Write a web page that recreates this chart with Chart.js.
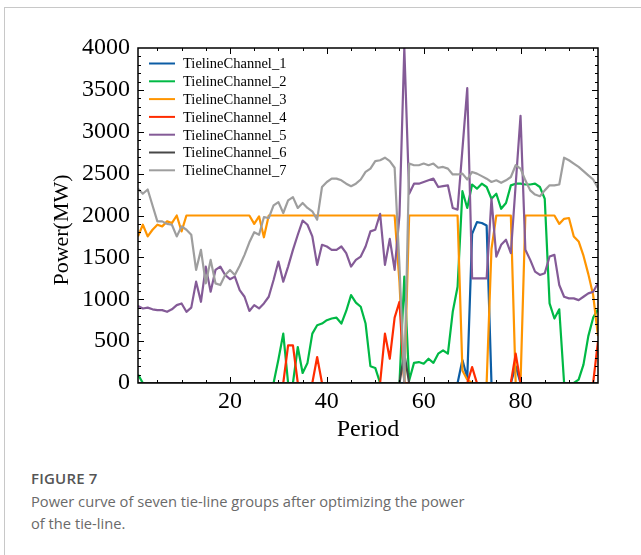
<!DOCTYPE html>
<html>
<head>
<meta charset="utf-8">
<script src="https://cdn.jsdelivr.net/npm/chart.js@4.4.1/dist/chart.umd.min.js"></script>
<style>
  body { margin: 0; width: 641px; height: 555px; overflow: hidden; background: #fff; position: relative; }
  .frame { position: absolute; left: 4px; top: 7px; width: 700px; height: 600px;
           border-top: 1px solid #c8c8c8; border-left: 1px solid #c8c8c8; }
  .plot { position: absolute; left: 0; top: 0; width: 641px; height: 445px; }
  .caption { position: absolute; left: 31px; top: 469px; font-family: "Open Sans", sans-serif; color: #6a6a6a; }
  .caption .fig { font-size: 15px; line-height: 18px; font-weight: 600; color: #555; letter-spacing: 0.2px; }
  .caption .txt { font-size: 14.7px; line-height: 22px; margin-top: 3px; width: 580px; }
</style>
</head>
<body>
<div class="frame"></div>
<div class="plot"><canvas id="tieline" width="641" height="445"></canvas></div>
<div class="caption">
  <div class="fig">FIGURE 7</div>
  <div class="txt">Power curve of seven tie-line groups after optimizing the power<br>of the tie-line.</div>
</div>

<script>
// periods 1..96 (15-min intervals)
const periods = Array.from({ length: 96 }, (_, i) => i + 1);
const xTicks = [20, 40, 60, 80];
const yTicks = [0, 500, 1000, 1500, 2000, 2500, 3000, 3500, 4000];

const names = ['TielineChannel_1', 'TielineChannel_2', 'TielineChannel_3', 'TielineChannel_4',
               'TielineChannel_5', 'TielineChannel_6', 'TielineChannel_7'];
const colors = ['#0C5DA5', '#00B945', '#FF9500', '#FF2C00', '#845B97', '#474747', '#9e9e9e'];

const ch1 = [
  0, 0, 0, 0, 0, 0, 0, 0, 0, 0, 0, 0,
  0, 0, 0, 0, 0, 0, 0, 0, 0, 0, 0, 0,
  0, 0, 0, 0, 0, 0, 0, 0, 0, 0, 0, 0,
  0, 0, 0, 0, 0, 0, 0, 0, 0, 0, 0, 0,
  0, 0, 0, 0, 0, 0, 0, 0, 0, 0, 0, 0,
  0, 0, 0, 0, 0, 0, 0, 275, 60, 1780, 1920, 1910,
  1880, 0, 0, 0, 0, 0, 200, 0, 0, 0, 0, 0,
  0, 0, 0, 0, 0, 0, 0, 0, 0, 0, 0, 0
];
const ch2 = [
  100, 0, 0, 0, 0, 0, 0, 0, 0, 0, 0, 0,
  0, 0, 0, 0, 0, 0, 0, 0, 0, 0, 0, 0,
  0, 0, 0, 0, 0, 280, 590, 0, 0, 430, 120, 240,
  590, 690, 710, 750, 770, 780, 710, 860, 1050, 960, 910, 710,
  200, 180, 0, 0, 0, 0, 0, 1270, 30, 240, 250, 230,
  290, 240, 350, 390, 350, 850, 1150, 2290, 2090, 2370, 2320, 2380,
  2340, 2200, 2260, 2080, 2150, 2360, 2380, 2380, 2370, 2370, 2380, 2340,
  2200, 950, 770, 880, 0, 0, 0, 40, 220, 560, 780, 880
];
const ch3 = [
  1750, 1890, 1750, 1830, 1890, 1870, 1930, 1910, 2000, 1810, 2000, 2000,
  2000, 2000, 2000, 2000, 2000, 2000, 2000, 2000, 2000, 2000, 2000, 2000,
  1900, 1990, 1740, 2000, 2000, 2000, 2000, 2000, 2000, 2000, 2000, 2000,
  2000, 2000, 2000, 2000, 2000, 2000, 2000, 2000, 2000, 2000, 2000, 2000,
  2000, 2000, 2000, 2000, 2000, 2000, 1200, 0, 2000, 2000, 2000, 2000,
  2000, 2000, 2000, 2000, 2000, 2000, 2000, 150, 40, 0, 0, 0,
  0, 1600, 2000, 2000, 2000, 2000, 0, 0, 2000, 2000, 2000, 2000,
  2000, 2000, 2000, 1900, 1960, 1970, 1750, 1690, 1520, 1300, 1050, 560
];
const ch4 = [
  0, 0, 0, 0, 0, 0, 0, 0, 0, 0, 0, 0,
  0, 0, 0, 0, 0, 0, 0, 0, 0, 0, 0, 0,
  0, 0, 0, 0, 0, 0, 0, 450, 450, 0, 0, 0,
  0, 310, 0, 0, 0, 0, 0, 0, 0, 0, 0, 0,
  0, 0, 0, 590, 290, 780, 970, 0, 0, 0, 0, 0,
  0, 0, 0, 0, 0, 0, 0, 0, 0, 190, 0, 0,
  0, 0, 0, 0, 0, 0, 350, 0, 0, 0, 0, 0,
  0, 0, 0, 0, 0, 0, 0, 0, 0, 0, 0, 500
];
const ch5 = [
  920, 890, 900, 880, 870, 870, 850, 880, 930, 950, 850, 900,
  1210, 970, 1390, 1090, 1350, 1390, 1290, 1240, 1270, 1110, 1030, 860,
  930, 890, 950, 1030, 1230, 1450, 1210, 1390, 1590, 1770, 1940, 1890,
  1750, 1410, 1650, 1630, 1590, 1590, 1630, 1550, 1390, 1470, 1510, 1630,
  1810, 1830, 2020, 1410, 1720, 1350, 2000, 4000, 2260, 2380, 2380, 2400,
  2420, 2440, 2340, 2350, 2360, 2090, 2070, 2790, 3520, 1250, 1250, 1250,
  1250, 2200, 1510, 1650, 1710, 1550, 2370, 3190, 1590, 1470, 1330, 1290,
  1310, 1510, 1530, 1170, 1030, 1010, 1010, 990, 1030, 1070, 1090, 1190
];
const ch6 = [
  0, 0, 0, 0, 0, 0, 0, 0, 0, 0, 0, 0,
  0, 0, 0, 0, 0, 0, 0, 0, 0, 0, 0, 0,
  0, 0, 0, 0, 0, 0, 0, 0, 0, 0, 0, 0,
  0, 0, 0, 0, 0, 0, 0, 0, 0, 0, 0, 0,
  0, 0, 0, 0, 0, 0, 0, 350, 0, 0, 0, 0,
  0, 0, 0, 0, 0, 0, 0, 0, 0, 0, 0, 0,
  0, 0, 0, 0, 0, 0, 0, 0, 0, 0, 0, 0,
  0, 0, 0, 0, 0, 0, 0, 0, 0, 0, 0, 0
];
const ch7 = [
  2320, 2260, 2310, 2120, 1930, 1930, 1900, 1890, 1750, 1870, 1830, 1770,
  1350, 1590, 1190, 1470, 1190, 1170, 1290, 1350, 1290, 1400, 1530, 1680,
  1800, 1770, 1980, 1970, 2120, 2160, 2030, 2180, 2220, 2090, 2150, 2090,
  2050, 1950, 2340, 2400, 2440, 2440, 2420, 2380, 2350, 2380, 2430, 2520,
  2560, 2650, 2660, 2690, 2650, 2570, 1400, 0, 2620, 2600, 2600, 2620,
  2600, 2620, 2570, 2580, 2560, 2490, 2490, 2500, 2430, 2520, 2500, 2470,
  2440, 2400, 2420, 2390, 2420, 2460, 2600, 2560, 2420, 2300, 2250, 2230,
  2300, 2360, 2360, 2370, 2690, 2660, 2620, 2580, 2530, 2480, 2430, 2330
];
const series = [ch1, ch2, ch3, ch4, ch5, ch6, ch7];

const serif = '"Liberation Serif", "Times New Roman", serif';

// frame, inward ticks (major + minor) on all four sides, y label and the in-axes legend
const axesDecor = {
  id: 'axesDecor',
  afterDatasetsDraw(chart) {
    const { ctx, chartArea: a, scales: { x, y } } = chart;
    ctx.save();
    ctx.strokeStyle = '#000';
    ctx.lineWidth = 1;
    ctx.beginPath();
    for (let v = 5; v < 96; v += 5) {
      const px = Math.round(x.getPixelForValue(v)) + 0.5;
      const len = xTicks.includes(v) ? 6 : 3;
      ctx.moveTo(px, a.bottom); ctx.lineTo(px, a.bottom - len);
      ctx.moveTo(px, a.top); ctx.lineTo(px, a.top + len);
    }
    for (let v = 100; v < 4000; v += 100) {
      const py = Math.round(y.getPixelForValue(v)) + 0.5;
      const len = yTicks.includes(v) ? 6 : 3;
      ctx.moveTo(a.left, py); ctx.lineTo(a.left + len, py);
      ctx.moveTo(a.right, py); ctx.lineTo(a.right - len, py);
    }
    ctx.stroke();
    ctx.lineWidth = 1.5;
    ctx.strokeRect(a.left, a.top, a.right - a.left, a.bottom - a.top);

    // y axis label
    ctx.save();
    ctx.translate(62, 230);
    ctx.rotate(-Math.PI / 2);
    ctx.font = '22px ' + serif;
    ctx.fillStyle = '#000';
    ctx.textAlign = 'center';
    ctx.textBaseline = 'middle';
    ctx.fillText('Power(MW)', 0, 0);
    ctx.restore();

    // legend
    ctx.font = '14.5px ' + serif;
    ctx.textBaseline = 'middle';
    ctx.fillStyle = '#000';
    chart.data.datasets.forEach((ds, i) => {
      const ly = a.top + 15.5 + i * 17.8;
      ctx.strokeStyle = ds.borderColor;
      ctx.lineWidth = 2;
      ctx.beginPath();
      ctx.moveTo(a.left + 11, ly); ctx.lineTo(a.left + 37, ly);
      ctx.stroke();
      ctx.fillText(ds.label, a.left + 45, ly + 1);
    });
    ctx.restore();
  }
};

new Chart(document.getElementById('tieline'), {
  type: 'line',
  data: {
    labels: periods,
    datasets: series.map((d, i) => ({
      label: names[i],
      data: d,
      borderColor: colors[i],
      backgroundColor: colors[i],
      borderWidth: 2.2,
      pointRadius: 0,
      tension: 0,
      borderJoinStyle: 'round',
      order: 6 - i
    }))
  },
  options: {
    responsive: false,
    devicePixelRatio: 1,
    animation: false,
    layout: { padding: { left: 0, top: 48, right: 43, bottom: 0 } },
    plugins: { legend: { display: false }, tooltip: { enabled: false } },
    scales: {
      x: {
        type: 'linear',
        min: 1,
        max: 96,
        grid: { display: false, drawTicks: false },
        border: { display: false },
        afterBuildTicks: s => { s.ticks = xTicks.map(v => ({ value: v })); },
        afterFit: s => { s.height = 62; },
        ticks: { padding: 4, color: '#000', font: { family: serif, size: 24 }, maxRotation: 0, callback: v => String(v) },
        title: { display: true, text: 'Period', color: '#000', font: { family: serif, size: 24 }, padding: { top: 0, bottom: 1 } }
      },
      y: {
        min: 0,
        max: 4000,
        grid: { display: false, drawTicks: false },
        border: { display: false },
        afterBuildTicks: s => { s.ticks = yTicks.map(v => ({ value: v })); },
        afterFit: s => { s.width = 138; },
        ticks: { padding: 8, color: '#000', font: { family: serif, size: 24 }, callback: v => String(v) }
      }
    }
  },
  plugins: [axesDecor]
});
</script>
</body>
</html>
